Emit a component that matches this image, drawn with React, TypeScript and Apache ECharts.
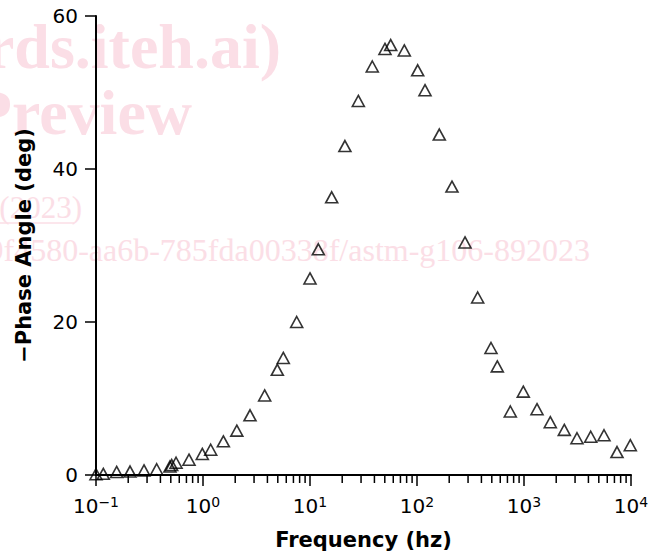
import React, { useEffect, useRef } from "react";
import * as echarts from "echarts";

// Measured data: frequency (Hz) and −phase angle (deg)
const frequencyHz = [
  0.1, 0.117, 0.156, 0.208, 0.281, 0.369, 0.491, 0.51, 0.56, 0.74,
  0.985, 1.18, 1.55, 2.07, 2.75, 3.77, 4.95, 5.63, 7.51, 10.0,
  11.96, 15.95, 21.2, 28.3, 38.2, 50.2, 56.8, 76.1, 101.5, 118.8,
  161.6, 212.3, 281, 369, 491.6, 563, 745, 985, 1323, 1761,
  2380, 3128, 4202, 5594, 7401, 9851,
];
const phaseDeg = [
  0.1, 0.15, 0.4, 0.45, 0.6, 0.75, 1.1, 1.3, 1.6, 2.0,
  2.75, 3.3, 4.4, 5.8, 7.8, 10.4, 13.75, 15.3, 20.0, 25.7,
  29.5, 36.3, 43.0, 48.9, 53.4, 55.7, 56.2, 55.5, 52.9, 50.3,
  44.5, 37.7, 30.4, 23.2, 16.6, 14.2, 8.3, 10.9, 8.6, 6.9,
  5.9, 4.8, 5.0, 5.2, 3.0, 3.9,
];

// Axis structure
const xMin = 0.1;
const xMax = 10000;
const yMin = 0;
const yMax = 60;
const yInterval = 20;
const decadeStarts = [0.1, 1, 10, 100, 1000];
const minorMultipliers = [2, 3, 4, 5, 6, 7, 8, 9];

// Watermark texts in the scanned original
const watermarkLine1 = "rds.iteh.ai)";
const watermarkLine2 = "Preview";
const watermarkLine3 = "(2023)";
const watermarkLine4 = "9f4580-aa6b-785fda00338f/astm-g106-892023";

const FONT = "DejaVu Sans";
const PINK = "#fbdee6";

export default function App() {
  const ref = useRef<HTMLDivElement>(null);

  useEffect(() => {
    if (!ref.current) return;
    const chart = echarts.init(ref.current, undefined, { renderer: "svg" });

    const points = frequencyHz.map((f, i) => [f, phaseDeg[i]]);
    const minorTicks: number[][] = [];
    decadeStarts.forEach((d) =>
      minorMultipliers.forEach((m) => minorTicks.push([d * m, 0]))
    );

    const expText = (v: number) => {
      const e = Math.round(Math.log10(v));
      return e < 0 ? "\u2212" + Math.abs(e) : String(e);
    };

    const wm = (text: string, x: number, y: number, font: string) => ({
      type: "text",
      z: -10,
      silent: true,
      style: {
        text,
        x,
        y,
        align: "right",
        verticalAlign: "top",
        font,
        fill: PINK,
      },
    });

    chart.setOption({
      animation: false,
      backgroundColor: "#ffffff",
      grid: { left: 96, right: 28, top: 16, bottom: 78 },
      graphic: [
        wm(watermarkLine1, 281, 14, "bold 64px 'Liberation Serif'"),
        wm(watermarkLine2, 192, 80, "bold 64px 'Liberation Serif'"),
        wm(watermarkLine3, 82, 192, "31px 'Liberation Serif'"),
        {
          type: "line",
          z: -10,
          silent: true,
          shape: { x1: 0, y1: 223, x2: 74, y2: 223 },
          style: { stroke: PINK, lineWidth: 1.5 },
        },
        wm(watermarkLine4, 590, 234, "32px 'Liberation Serif'"),
      ],
      xAxis: {
        type: "log",
        logBase: 10,
        min: xMin,
        max: xMax,
        splitNumber: 5,
        name: "Frequency (hz)",
        nameLocation: "middle",
        nameGap: 54,
        nameTextStyle: {
          fontFamily: FONT,
          fontWeight: "bold",
          fontSize: 21,
          color: "#000",
        },
        axisLine: { show: true, lineStyle: { color: "#000", width: 2 } },
        axisTick: {
          show: true,
          inside: false,
          length: 11,
          lineStyle: { color: "#000", width: 1.5 },
        },
        minorTick: { show: false },
        splitLine: { show: false },
        axisLabel: {
          margin: 20,
          formatter: (v: number) => `{b|10}{s|${expText(v)}}`,
          rich: {
            b: { fontFamily: FONT, fontSize: 20, color: "#000", lineHeight: 22 },
            s: {
              fontFamily: FONT,
              fontSize: 14,
              color: "#000",
              verticalAlign: "top",
              lineHeight: 14,
            },
          },
        },
      },
      yAxis: {
        type: "value",
        min: yMin,
        max: yMax,
        interval: yInterval,
        name: "\u2212Phase Angle (deg)",
        nameLocation: "middle",
        nameGap: 62,
        nameTextStyle: {
          fontFamily: FONT,
          fontWeight: "bold",
          fontSize: 21,
          color: "#000",
        },
        axisLine: { show: true, lineStyle: { color: "#000", width: 2 } },
        axisTick: {
          show: true,
          inside: false,
          length: 11,
          lineStyle: { color: "#000", width: 1.5 },
        },
        splitLine: { show: false },
        axisLabel: {
          margin: 18,
          fontFamily: FONT,
          fontSize: 20,
          color: "#000",
        },
      },
      series: [
        {
          type: "custom",
          silent: true,
          z: 1,
          clip: false,
          data: minorTicks,
          encode: { x: 0, y: 1 },
          renderItem: (_params: any, api: any) => {
            const p = api.coord([api.value(0), 0]);
            return {
              type: "line",
              shape: { x1: p[0], y1: p[1], x2: p[0], y2: p[1] + 8 },
              style: { stroke: "#000", lineWidth: 1.5 },
            };
          },
        },
        {
          type: "scatter",
          z: 3,
          data: points,
          symbol: "triangle",
          symbolSize: [12, 11],
          itemStyle: {
            color: "rgba(0,0,0,0)",
            borderColor: "#000",
            borderWidth: 1.6,
          },
        },
      ],
    });

    return () => chart.dispose();
  }, []);

  return (
    <div
      ref={ref}
      style={{
        position: "fixed",
        left: 0,
        top: 0,
        width: 659,
        height: 555,
        background: "#fff",
      }}
    />
  );
}
